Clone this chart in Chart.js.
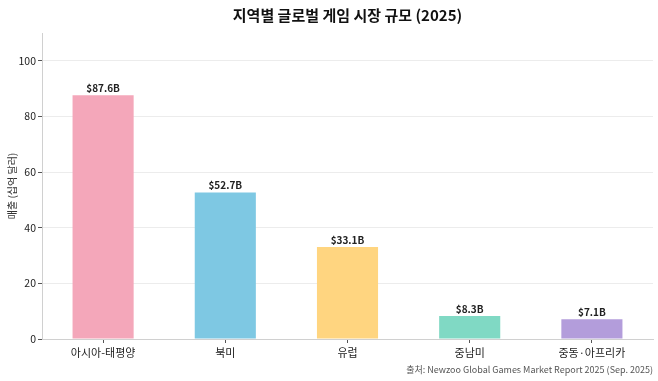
<!DOCTYPE html>
<html>
<head>
<meta charset="utf-8">
<script src="https://cdn.jsdelivr.net/npm/chart.js@4/dist/chart.umd.min.js"></script>
<style>
  html, body { margin: 0; padding: 0; background: #fff; }
  #wrap { width: 658px; height: 381px; }
</style>
</head>
<body>
<div id="wrap"><canvas id="chart"></canvas></div>
<script>
'use strict';

/*-- data --*/
const regions = ['아시아-태평양', '북미', '유럽', '중남미', '중동·아프리카'];
const revenue = [87.6, 52.7, 33.1, 8.3, 7.1];
const barColors = ['#F4A7BA', '#7EC8E3', '#FFD580', '#80D9C4', '#B39DDB'];
const yTicks = [0, 20, 40, 60, 80, 100];

const FONT = "'Noto Sans CJK KR', 'Noto Sans', sans-serif";

/*-- value labels over the bars --*/
const valueLabels = {
  id: 'valueLabels',
  afterDatasetsDraw(chart) {
    const ctx = chart.ctx;
    const meta = chart.getDatasetMeta(0);
    ctx.save();
    ctx.font = 'bold 10px ' + FONT;
    ctx.fillStyle = '#222';
    ctx.textAlign = 'center';
    ctx.textBaseline = 'bottom';
    meta.data.forEach(function (bar, i) {
      ctx.fillText('$' + revenue[i].toFixed(1) + 'B', bar.x, bar.y - 2);
    });
    ctx.restore();
  }
};

new Chart(document.getElementById('chart'), {
  type: 'bar',
  data: {
    labels: regions,
    datasets: [{
      data: revenue,
      backgroundColor: barColors,
      borderWidth: 0,
      categoryPercentage: 1,
      barPercentage: 0.5
    }]
  },
  options: {
    responsive: true,
    maintainAspectRatio: false,
    animation: false,
    layout: { padding: { left: 0, right: 5, top: 0, bottom: 0 } },
    plugins: {
      legend: { display: false },
      tooltip: { enabled: false },
      title: {
        display: true,
        text: '지역별 글로벌 게임 시장 규모 (2025)',
        fullSize: false,
        color: '#111',
        font: { family: FONT, size: 15, weight: 'bold' },
        padding: { top: 6, bottom: 9 }
      },
      subtitle: {
        display: true,
        position: 'bottom',
        align: 'end',
        text: '출처: Newzoo Global Games Market Report 2025 (Sep. 2025)',
        color: '#555',
        font: { family: FONT, size: 9 },
        padding: { top: 2, bottom: 6 }
      }
    },
    scales: {
      x: {
        offset: true,
        grid: { color: 'transparent', tickColor: '#555', tickLength: 4, offset: false },
        border: { color: '#d0d0d0', width: 1 },
        ticks: { color: '#222', font: { family: FONT, size: 11 }, padding: 3, maxRotation: 0 }
      },
      y: {
        min: 0,
        max: 110,
        afterBuildTicks(scale) {
          scale.ticks = yTicks.map(function (v) { return { value: v }; });
        },
        afterFit(scale) { scale.width = 42; },
        grid: { color: '#ececec', tickColor: '#555', tickLength: 4 },
        border: { color: '#d0d0d0', width: 1 },
        ticks: { color: '#222', font: { family: FONT, size: 10.5 }, padding: 2 },
        title: {
          display: true,
          text: '매출 (십억 달러)',
          color: '#333',
          font: { family: FONT, size: 10 },
          padding: 6
        }
      }
    }
  },
  plugins: [valueLabels]
});
</script>
</body>
</html>
